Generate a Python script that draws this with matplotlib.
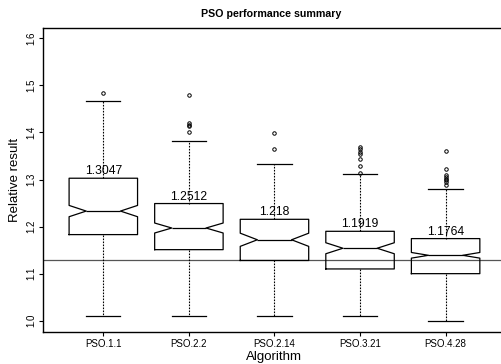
import matplotlib
matplotlib.use('Agg')
import matplotlib.pyplot as plt

plt.rcParams['font.family'] = ['Liberation Sans', 'DejaVu Sans']

# summary stats per algorithm
algorithms = ['PSO.1.1', 'PSO.2.2', 'PSO.2.14', 'PSO.3.21', 'PSO.4.28']
q1 = [1.183, 1.151, 1.128, 1.110, 1.100]
medians = [1.233, 1.197, 1.172, 1.154, 1.139]
q3 = [1.3028, 1.249, 1.2155, 1.190, 1.1745]
notch_half = [0.012, 0.0106, 0.014, 0.0117, 0.006]
whisker_lo = [1.0098, 1.0098, 1.011, 1.011, 0.9985]
whisker_hi = [1.466, 1.381, 1.334, 1.311, 1.279]
outliers = [
    [1.483],
    [1.479, 1.420, 1.416, 1.413, 1.401],
    [1.398, 1.364],
    [1.369, 1.365, 1.358, 1.355, 1.343, 1.328, 1.314],
    [1.361, 1.323, 1.309, 1.305, 1.302, 1.298, 1.295, 1.288],
]
q3_labels = ['1.3047', '1.2512', '1.218', '1.1919', '1.1764']
reference_value = 1.129

stats = []
for i, name in enumerate(algorithms):
    stats.append({
        'label': name,
        'med': medians[i],
        'q1': q1[i],
        'q3': q3[i],
        'whislo': whisker_lo[i],
        'whishi': whisker_hi[i],
        'fliers': outliers[i],
        'cilo': medians[i] - notch_half[i],
        'cihi': medians[i] + notch_half[i],
    })

fig = plt.figure(figsize=(5.02, 3.64), dpi=100)
ax = fig.add_axes([0.0865, 0.0879, 0.9205, 0.8351])

positions = list(range(1, len(algorithms) + 1))
ax.bxp(stats, positions=positions, widths=0.8, shownotches=True,
       boxprops=dict(color='black', linewidth=0.9),
       medianprops=dict(color='black', linewidth=0.9),
       whiskerprops=dict(color='black', linewidth=0.8, linestyle=(0, (1.5, 1.2))),
       capprops=dict(color='black', linewidth=0.9),
       capwidths=0.4,
       flierprops=dict(marker='o', markersize=2.5, markerfacecolor='none',
                       markeredgecolor='black', markeredgewidth=0.7))

# reference level line
ax.axhline(reference_value, color='#555555', linewidth=0.9, zorder=1)

for pos, val, lab in zip(positions, q3, q3_labels):
    ax.text(pos, val + 0.002, lab, ha='center', va='bottom', fontsize=8.7)

ax.set_xlim(0.3, 5.7)
ax.set_ylim(0.976, 1.622)
ax.set_xticks(positions)
ax.set_xticklabels(algorithms, fontsize=7)
ax.set_yticks([1.0, 1.1, 1.2, 1.3, 1.4, 1.5, 1.6])
ax.set_yticklabels(['1.0', '1.1', '1.2', '1.3', '1.4', '1.5', '1.6'],
                   fontsize=7, rotation=90, va='center')
ax.tick_params(direction='out', length=3, width=0.8, pad=2)

for sp in ax.spines.values():
    sp.set_linewidth(1.0)

ax.set_xlabel('Algorithm', fontsize=9.5, labelpad=1.5)
ax.set_ylabel('Relative result', fontsize=9.5, labelpad=4)
fig.text(0.5405, 0.962, 'PSO performance summary', ha='center', va='center',
         fontsize=7.7, fontweight='bold')

fig.savefig('out.png', dpi=100)
